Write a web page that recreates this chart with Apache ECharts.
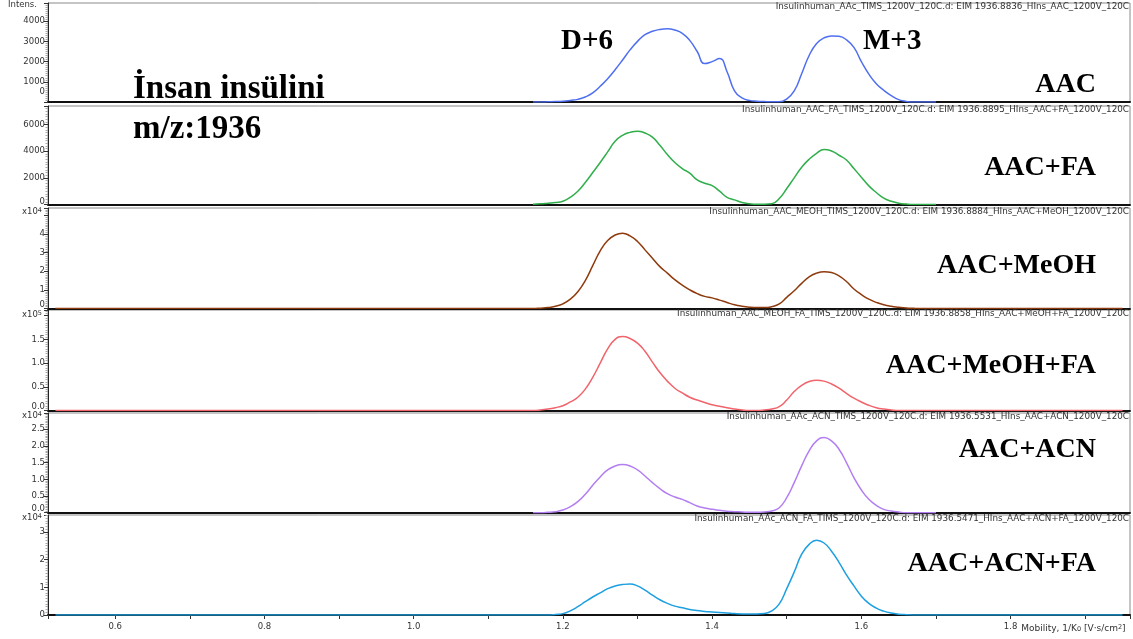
<!DOCTYPE html>
<html>
<head>
<meta charset="utf-8">
<script src="https://cdn.jsdelivr.net/npm/echarts@6/dist/echarts.min.js"></script>
<style>
  html, body { margin: 0; padding: 0; background: #fff; }
  #chart { width: 1133px; height: 639px; }
</style>
</head>
<body>
<div id="chart"></div>
<script>
// mobility axis (1/K0), shared by all six traces
const mobility = [0.52,
  1.16, 1.17, 1.18, 1.19, 1.20, 1.21, 1.22, 1.23, 1.24, 1.25,
  1.26, 1.27, 1.28, 1.29, 1.30, 1.31, 1.32, 1.33, 1.34, 1.35,
  1.36, 1.37, 1.38, 1.39, 1.40, 1.41, 1.42, 1.43, 1.44, 1.45,
  1.46, 1.47, 1.48, 1.49, 1.50, 1.51, 1.52, 1.53, 1.54, 1.55,
  1.56, 1.57, 1.58, 1.59, 1.60, 1.61, 1.62, 1.63, 1.64, 1.65,
  1.66, 1.67, 1.68, 1.69, 1.70,
  1.95];

const aac = [null,
  0, 0, 10, 20, 40, 80, 130, 250, 450, 780,
  1150, 1600, 2080, 2580, 3000, 3330, 3500, 3590, 3620, 3560,
  3400, 3050, 2500, 1900, 2000, 2150, 1500, 550, 200, 80,
  40, 20, 10, 10, 150, 550, 1400, 2300, 2900, 3170,
  3270, 3250, 3080, 2700, 2000, 1380, 900, 580, 320, 120,
  30, 0, 0, 0, 0,
  null];

const aacFa = [null,
  20, 50, 100, 150, 250, 550, 1000, 1650, 2400, 3160,
  3950, 4750, 5200, 5420, 5510, 5370, 5060, 4450, 3750, 3150,
  2700, 2350, 1850, 1600, 1420, 1000, 540, 350, 150, 60,
  20, 20, 50, 450, 1200, 2000, 2800, 3400, 3850, 4140,
  4020, 3700, 3340, 2700, 2050, 1400, 900, 480, 250, 100,
  30, 0, 0, 0, 0,
  null];

const aacMeoh = [0,
  0, 200, 500, 1200, 2500, 5000, 9000, 15000, 23000, 31000,
  36500, 39500, 40500, 39000, 36000, 31500, 27000, 22500, 19000, 15500,
  12500, 10000, 8000, 6500, 5700, 4500, 3200, 2000, 1200, 700,
  500, 500, 1000, 2500, 6000, 9500, 13500, 17000, 19000, 19800,
  19300, 17500, 14500, 10500, 7500, 5000, 3300, 2000, 1200, 700,
  300, 100, 0, 0, 0,
  0];

const aacMeohFa = [0,
  0, 1000, 3000, 6000, 10000, 18000, 28000, 45000, 70000, 100000,
  130000, 150000, 156000, 152000, 142000, 125000, 102000, 80000, 62000, 47000,
  37000, 28000, 22000, 17000, 12000, 9000, 6000, 3000, 1000, 0,
  0, 1000, 3000, 8000, 22000, 40000, 53000, 61000, 64000, 62000,
  56000, 47000, 36000, 26000, 18000, 11000, 6000, 3000, 1000, 0,
  0, 0, 0, 0, 0,
  0];

const aacAcn = [null,
  0, 0, 100, 300, 800, 1800, 3300, 5500, 8200, 10700,
  12800, 14000, 14400, 14000, 12800, 11000, 9000, 7200, 5700, 4700,
  4000, 3000, 2000, 1400, 1000, 700, 400, 300, 200, 100,
  100, 200, 500, 1500, 4500, 9000, 14000, 18500, 21500, 22500,
  21500, 19000, 15000, 10500, 6800, 4000, 2200, 1000, 500, 200,
  0, 0, 0, 0, 0,
  null];

const aacAcnFa = [0,
  0, 0, 0, 200, 500, 1500, 3000, 4800, 6500, 8000,
  9500, 10500, 11000, 11200, 10500, 9000, 7200, 5500, 4200, 3200,
  2600, 2000, 1600, 1300, 1100, 900, 700, 500, 400, 400,
  400, 500, 1500, 4000, 9500, 15500, 22000, 25500, 27000, 26000,
  23000, 19000, 14500, 10500, 6800, 4200, 2500, 1400, 700, 300,
  100, 0, 0, 0, 0,
  0];

const traces = [aac, aacFa, aacMeoh, aacMeohFa, aacAcn, aacAcnFa];
const panelNames = ['AAC', 'AAC+FA', 'AAC+MeOH', 'AAC+MeOH+FA', 'AAC+ACN', 'AAC+ACN+FA'];
const fileNames = [
  'Insulinhuman_AAc_TIMS_1200V_120C.d: EIM 1936.8836_HIns_AAC_1200V_120C',
  'Insulinhuman_AAC_FA_TIMS_1200V_120C.d: EIM 1936.8895_HIns_AAC+FA_1200V_120C',
  'Insulinhuman_AAC_MEOH_TIMS_1200V_120C.d: EIM 1936.8884_HIns_AAC+MeOH_1200V_120C',
  'Insulinhuman_AAC_MEOH_FA_TIMS_1200V_120C.d: EIM 1936.8858_HIns_AAC+MeOH+FA_1200V_120C',
  'Insulinhuman_AAc_ACN_TIMS_1200V_120C.d: EIM 1936.5531_HIns_AAC+ACN_1200V_120C',
  'Insulinhuman_AAc_ACN_FA_TIMS_1200V_120C.d: EIM 1936.5471_HIns_AAC+ACN+FA_1200V_120C'
];
// y axis: max, tick step, highest labelled tick, exponent of the x10^n label
const yMax = [4900, 7400, 54000, 212000, 29850, 36100];
const yStep = [1000, 2000, 10000, 50000, 5000, 10000];
const yLabelTop = [4000, 6000, 40000, 150000, 25000, 30000];
const yExp = [0, 0, 4, 5, 4, 4];
const yDecimals = [0, 0, 0, 1, 1, 0];

// layout / look
const colors = ['#4f6ff0', '#2fae4a', '#8e3a0c', '#f0646c', '#b27ef2', '#1e9fe0'];
const panelTop = [3, 106, 208, 310, 413, 515];
const panelHeight = [99, 98.5, 100.5, 100.5, 99.7, 100];
const zeroRaise = [10, 3, 4, 4, 4, 0];
const expLabelY = [0, 0, 212, 315, 416, 518];
const labelY = [85, 167.5, 266, 366, 450, 564];

const axisFont = 'DejaVu Sans';
const serif = 'bold 28px "Liberation Serif", "Times New Roman", serif';
const serifBig = 'bold 33px "Liberation Serif", "Times New Roman", serif';
const serifMid = 'bold 29px "Liberation Serif", "Times New Roman", serif';

const chart = echarts.init(document.getElementById('chart'), null, { renderer: 'canvas' });

const grids = [], xAxes = [], yAxes = [], series = [], titles = [], graphics = [];

traces.forEach((vals, i) => {
  const last = i === traces.length - 1;
  grids.push({
    left: 48, right: 3, top: panelTop[i], height: panelHeight[i],
    show: true, borderColor: '#8a8a8a', borderWidth: 1,
    outerBoundsMode: 'none'
  });
  xAxes.push({
    type: 'value', gridIndex: i, min: 0.51, max: 1.96, splitNumber: 7,
    axisLine: { show: true, onZero: false, lineStyle: { color: '#111', width: 2 } },
    axisTick: { show: last, length: 4, lineStyle: { color: '#333' } },
    minorTick: { show: last, splitNumber: 2, length: 4, lineStyle: { color: '#333' } },
    splitLine: { show: false },
    axisLabel: {
      show: last, showMinLabel: false, showMaxLabel: false, margin: 7,
      fontSize: 8.5, color: '#333', fontFamily: axisFont,
      formatter: v => v.toFixed(1)
    },
    name: last ? 'Mobility, 1/K{sub|0} [V·s/cm{sup|2}]' : '',
    nameLocation: 'end', nameGap: -109,
    nameTextStyle: {
      align: 'left', verticalAlign: 'top', padding: [9, 0, 0, 0],
      fontSize: 9, color: '#333', fontFamily: axisFont,
      rich: {
        sub: { fontSize: 6.5, verticalAlign: 'bottom', color: '#333', fontFamily: axisFont },
        sup: { fontSize: 6.5, verticalAlign: 'top', color: '#333', fontFamily: axisFont }
      }
    }
  });
  const div = Math.pow(10, yExp[i]);
  yAxes.push({
    type: 'value', gridIndex: i, min: 0, max: yMax[i], interval: yStep[i],
    axisLine: { show: true, lineStyle: { color: '#222', width: 1 } },
    axisTick: { show: true, length: 4, lineStyle: { color: '#333' } },
    minorTick: { show: true, splitNumber: 10, length: 2.5, lineStyle: { color: '#aaa' } },
    splitLine: { show: false },
    axisLabel: {
      showMaxLabel: false, margin: 3, fontSize: 8.5, color: '#333', fontFamily: axisFont,
      formatter: v => {
        if (v > yLabelTop[i]) return '';
        const t = (v / div).toFixed(yDecimals[i]);
        return v === 0 && zeroRaise[i] ? '{z|' + t + '}' : t;
      },
      rich: { z: { padding: [0, 0, zeroRaise[i] * 2, 0], fontSize: 8.5, color: '#333', fontFamily: axisFont } }
    },
    name: i === 0 ? 'Intens.' : '',
    nameLocation: 'end', nameGap: -2,
    nameTextStyle: {
      align: 'right', verticalAlign: 'middle', padding: [0, 11, 0, 0],
      fontSize: 8.5, color: '#333', fontFamily: axisFont
    }
  });
  series.push({
    type: 'line', xAxisIndex: i, yAxisIndex: i,
    data: mobility.map((x, j) => [x, vals[j]]),
    showSymbol: false, smooth: 0.5, connectNulls: false,
    lineStyle: { color: colors[i], width: 1.5 },
    itemStyle: { color: colors[i] },
    silent: true, z: 3
  });
  titles.push({
    text: fileNames[i], right: 4, top: panelTop[i] - 1, padding: 0,
    textStyle: { fontSize: 8.8, fontWeight: 'normal', color: '#333', fontFamily: axisFont }
  });
  graphics.push({
    type: 'text', x: 1096, y: labelY[i],
    style: { text: panelNames[i], font: serif, fill: '#000', align: 'right', verticalAlign: 'middle' }
  });
  if (yExp[i]) {
    // x10^n scale marker above the y axis
    graphics.push({
      type: 'text', x: 42, y: expLabelY[i],
      style: {
        text: 'x10{s|' + yExp[i] + '}', fill: '#333', align: 'right', verticalAlign: 'middle',
        fontSize: 8.5, fontFamily: axisFont,
        rich: { s: { fontSize: 6.5, fontFamily: axisFont, fill: '#333', verticalAlign: 'top', padding: [0, 0, 4, 0] } }
      }
    });
  }
});

graphics.push(
  { type: 'text', x: 561, y: 42, style: { text: 'D+6', font: serifMid, fill: '#000', align: 'left', verticalAlign: 'middle' } },
  { type: 'text', x: 863, y: 42, style: { text: 'M+3', font: serifMid, fill: '#000', align: 'left', verticalAlign: 'middle' } },
  { type: 'text', x: 133, y: 89, style: { text: 'İnsan insülini', font: serifBig, fill: '#000', align: 'left', verticalAlign: 'middle' } },
  { type: 'text', x: 133, y: 129, style: { text: 'm/z:1936', font: serifBig, fill: '#000', align: 'left', verticalAlign: 'middle' } }
);

chart.setOption({
  backgroundColor: '#fff',
  animation: false,
  title: titles,
  grid: grids,
  xAxis: xAxes,
  yAxis: yAxes,
  series: series,
  graphic: graphics
});
</script>
</body>
</html>
